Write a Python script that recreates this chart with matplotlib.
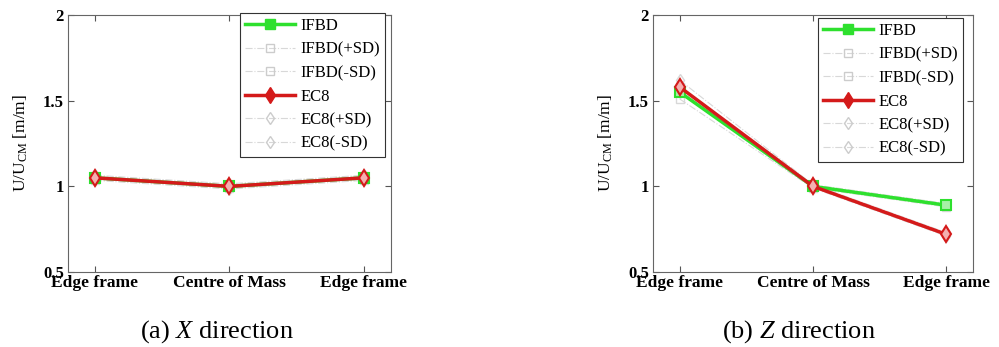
import matplotlib
matplotlib.use("Agg")
import matplotlib.pyplot as plt
from matplotlib.lines import Line2D

plt.rcParams['font.family'] = ['Liberation Serif', 'DejaVu Serif']
plt.rcParams['mathtext.fontset'] = 'custom'
plt.rcParams['mathtext.rm'] = 'Liberation Serif'
plt.rcParams['mathtext.it'] = 'Liberation Serif:italic'

categories = ["Edge frame", "Centre of Mass", "Edge frame"]
yticks = [0.5, 1, 1.5, 2]
ytick_labels = ["0.5", "1", "1.5", "2"]

# (a) X direction
x_ifbd = [1.05, 1.00, 1.05]
x_ifbd_p = [1.06, 1.01, 1.06]
x_ifbd_m = [1.04, 0.99, 1.04]
x_ec8 = [1.05, 1.00, 1.05]
x_ec8_p = [1.065, 1.015, 1.065]
x_ec8_m = [1.035, 0.985, 1.035]

# (b) Z direction
z_ifbd = [1.55, 1.00, 0.89]
z_ifbd_p = [1.58, 1.01, 0.90]
z_ifbd_m = [1.51, 0.99, 0.88]
z_ec8 = [1.58, 1.00, 0.72]
z_ec8_p = [1.62, 1.01, 0.73]
z_ec8_m = [1.55, 0.99, 0.71]

green = '#2ee02e'
red = '#d41a1a'
sdgrey = '#d8d8d8'

fig = plt.figure(figsize=(9.99, 3.47), dpi=100)
ax1 = fig.add_axes([0.068, 0.216, 0.3233, 0.7406])
ax2 = fig.add_axes([0.6537, 0.216, 0.3203, 0.7406])

def draw(ax, ifbd, ifbd_p, ifbd_m, ec8, ec8_p, ec8_m, leg_anchor):
    x = list(range(len(categories)))
    ax.plot(x, ifbd_p, color=sdgrey, ls='-.', lw=0.8, marker='s', ms=6, mfc='none', mec=sdgrey, label='IFBD(+SD)', zorder=2)
    ax.plot(x, ifbd_m, color=sdgrey, ls='-.', lw=0.8, marker='s', ms=6, mfc='none', mec=sdgrey, label='IFBD(-SD)', zorder=2)
    ax.plot(x, ec8_p, color=sdgrey, ls='-.', lw=0.8, marker='d', ms=6, mfc='none', mec=sdgrey, label='EC8(+SD)', zorder=2)
    ax.plot(x, ec8_m, color=sdgrey, ls='-.', lw=0.8, marker='d', ms=6, mfc='none', mec=sdgrey, label='EC8(-SD)', zorder=2)
    ax.plot(x, ifbd, color=green, lw=2.5, marker='s', ms=7, mfc='#a8f0a8', mec=green, mew=1.5, label='IFBD', zorder=3)
    ax.plot(x, ec8, color=red, lw=2.5, marker='d', ms=8, mfc='#f4b0b0', mec=red, mew=1.5, label='EC8', zorder=4)
    ax.set_xlim(-0.2, 2.2)
    ax.set_ylim(0.5, 2)
    ax.set_xticks(x)
    ax.set_xticklabels(categories, fontsize=12.5, fontweight='bold')
    ax.set_yticks(yticks)
    ax.set_yticklabels(ytick_labels, fontsize=12, fontweight='bold')
    ax.tick_params(direction='in', length=4, top=True, right=True, pad=3, color='#555555')
    ax.tick_params(axis='x', pad=2)
    for s in ax.spines.values():
        s.set_color('#666666')
        s.set_linewidth(0.8)
    ax.set_ylabel(r'U/U$_{\mathrm{CM}}$ [m/m]', fontsize=12.5, labelpad=9)
    handles = [
        Line2D([], [], color=green, lw=2.5, marker='s', ms=7, mfc=green, mec=green),
        Line2D([], [], color=sdgrey, ls='-.', lw=0.8, marker='s', ms=6, mfc='none', mec='#cccccc'),
        Line2D([], [], color=sdgrey, ls='-.', lw=0.8, marker='s', ms=6, mfc='none', mec='#cccccc'),
        Line2D([], [], color=red, lw=2.5, marker='d', ms=8, mfc=red, mec=red),
        Line2D([], [], color=sdgrey, ls='-.', lw=0.8, marker='d', ms=6, mfc='none', mec='#cccccc'),
        Line2D([], [], color=sdgrey, ls='-.', lw=0.8, marker='d', ms=6, mfc='none', mec='#cccccc'),
    ]
    labels = ['IFBD', 'IFBD(+SD)', 'IFBD(-SD)', 'EC8', 'EC8(+SD)', 'EC8(-SD)']
    leg = ax.legend(handles, labels, loc='upper right', bbox_to_anchor=leg_anchor,
                    fontsize=12, handlelength=3.0, labelspacing=0.45, handletextpad=0.3,
                    borderpad=0.3, borderaxespad=0.0, fancybox=False, framealpha=1)
    leg.get_frame().set_edgecolor('#333333')
    leg.get_frame().set_linewidth(0.8)

draw(ax1, x_ifbd, x_ifbd_p, x_ifbd_m, x_ec8, x_ec8_p, x_ec8_m, (0.981, 1.008))
draw(ax2, z_ifbd, z_ifbd_p, z_ifbd_m, z_ec8, z_ec8_p, z_ec8_m, (0.969, 0.988))

fig.text(0.217, 0.045, r'(a) $\mathit{X}$ direction', ha='center', va='center', fontsize=19)
fig.text(0.800, 0.045, r'(b) $\mathit{Z}$ direction', ha='center', va='center', fontsize=19)

fig.savefig('out.png', dpi=100)
